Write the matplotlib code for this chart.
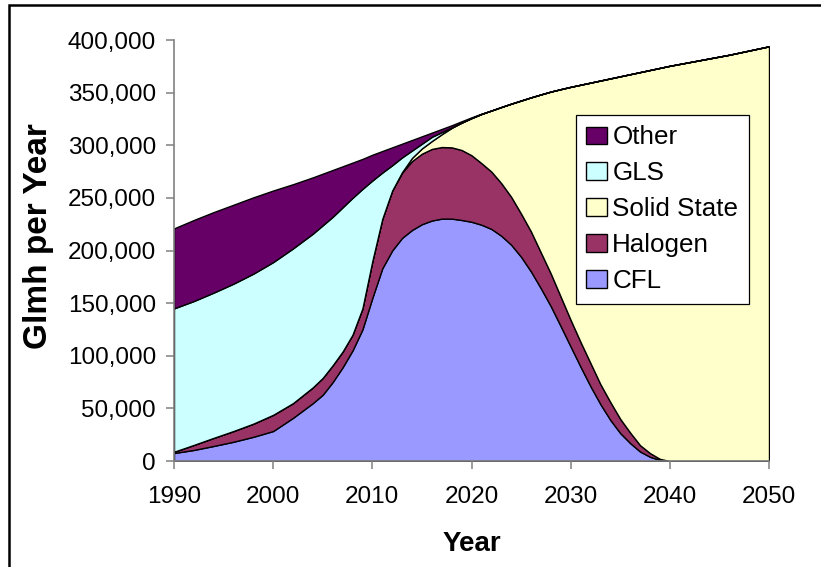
import matplotlib
matplotlib.use("Agg")
import matplotlib.pyplot as plt
from matplotlib.patches import Rectangle
from matplotlib.ticker import FuncFormatter

plt.rcParams['font.family'] = ['Liberation Sans', 'DejaVu Sans']

# Lighting service demand by technology (Glmh per year)
years = [1990, 1992, 1994, 1996, 1998, 2000, 2002, 2004,
         2005, 2006, 2007, 2008, 2009, 2010, 2011, 2012, 2013, 2014,
         2015, 2016, 2017, 2018, 2019, 2020, 2021, 2022, 2023, 2024,
         2025, 2026, 2027, 2028, 2029, 2030, 2031, 2032, 2033, 2034,
         2035, 2036, 2037, 2038, 2039, 2040, 2042, 2044, 2046, 2048, 2050]

cfl = [7600, 10500, 14300, 18300, 23000, 28500, 41000, 55000,
       63000, 75000, 89000, 105000, 125000, 155000, 183000, 200000, 212000, 219500,
       225000, 228500, 230300, 230300, 229000, 227300, 224500, 220500, 214000, 205500,
       194000, 180000, 164000, 147000, 128000, 108700, 89500, 71000, 54000, 39000,
       26500, 17000, 9000, 4000, 1000, 0, 0, 0, 0, 0, 0]

halogen = [1200, 4800, 7700, 10200, 12500, 15400, 14000, 15000,
           16000, 16000, 15000, 15000, 20000, 35000, 47000, 57000, 62000, 65500,
           67000, 68000, 68000, 67700, 66500, 63200, 58500, 54500, 50000, 45500,
           41000, 38000, 34000, 31000, 28000, 25300, 23500, 22000, 19000, 17000,
           13500, 10000, 6000, 3500, 1000, 0, 0, 0, 0, 0, 0]

solid_state = [0, 0, 0, 0, 0, 0, 0, 0,
               0, 0, 0, 0, 0, 0, 0, 0, 500, 3000,
               5000, 7500, 12200, 18500, 26000, 35300, 46700, 58000, 72300, 88500,
               107500, 127500, 150300, 173000, 197300, 221500, 244500, 266500, 288500, 307500,
               325500, 340500, 354500, 364000, 371500, 375500, 379000, 382500, 386000, 390000, 394000]

gls = [136200, 136700, 138000, 140000, 142500, 145100, 147000, 146000,
       145000, 141000, 137000, 130000, 113500, 76500, 44000, 24000, 14000, 7000,
       4500, 4000, 2000, 500, 0, 0, 0, 0, 0, 0,
       0, 0, 0, 0, 0, 0, 0, 0, 0, 0,
       0, 0, 0, 0, 0, 0, 0, 0, 0, 0, 0]

other = [76000, 77000, 76500, 75000, 72500, 68000, 61000, 53500,
         49000, 44500, 39000, 33500, 28500, 24500, 20500, 17000, 13000, 10000,
         7000, 4000, 3000, 2000, 1300, 700, 300, 0, 0, 0,
         0, 0, 0, 0, 0, 0, 0, 0, 0, 0,
         0, 0, 0, 0, 0, 0, 0, 0, 0, 0, 0]

series_names = ["CFL", "Halogen", "Solid State", "GLS", "Other"]
series_colors = ["#9999FF", "#993366", "#FFFFCC", "#CCFFFF", "#660066"]

x_ticks = [1990, 2000, 2010, 2020, 2030, 2040, 2050]
y_ticks = [0, 50000, 100000, 150000, 200000, 250000, 300000, 350000, 400000]

W, H = 821, 567
fig = plt.figure(figsize=(W / 100, H / 100), dpi=100)
fig.patch.set_facecolor("white")

ax = fig.add_axes([174 / W, 1 - 461 / H, (769 - 174) / W, (461 - 40) / H])

polys = ax.stackplot(years, cfl, halogen, solid_state, gls, other,
                     colors=series_colors, labels=series_names,
                     edgecolor="black", linewidth=1.0)

ax.set_xlim(1990, 2050)
ax.set_ylim(0, 400000)
ax.set_xticks(x_ticks)
ax.set_yticks(y_ticks)
ax.yaxis.set_major_formatter(FuncFormatter(lambda v, p: f"{int(v):,}"))

for side in ("top", "right"):
    ax.spines[side].set_visible(False)
for side in ("left", "bottom"):
    ax.spines[side].set_color("#808080")
    ax.spines[side].set_linewidth(1.2)
    ax.spines[side].set_zorder(5)

ax.tick_params(axis="both", direction="out", length=6, width=1.1,
               color="#808080", labelsize=17.5, labelcolor="black")
ax.tick_params(axis="x", pad=12)
ax.tick_params(axis="y", pad=7)

fig.text(471.5 / W, 1 - 544 / H, "Year", ha="center", va="center",
         fontsize=20, fontweight="bold")
fig.text(39 / W, 1 - 236 / H, "Glmh per Year", ha="center", va="center",
         rotation=90, fontsize=24, fontweight="bold")

handles, labels = ax.get_legend_handles_labels()
leg = fig.legend(handles[::-1], labels[::-1],
                 loc="upper left", bbox_to_anchor=(576 / W, 1 - 115 / H),
                 bbox_transform=fig.transFigure,
                 fontsize=18.7, frameon=True, fancybox=False,
                 edgecolor="black", facecolor="white", framealpha=1,
                 handlelength=0.8, handleheight=0.66, handletextpad=0.2,
                 labelspacing=0.46, borderpad=0.4, borderaxespad=0)
leg.get_frame().set_linewidth(0.9)

# outer chart frame
fig.patches.append(Rectangle((9 / W, -0.05), 1.0, (H - 5) / H + 0.05,
                             transform=fig.transFigure, fill=False,
                             edgecolor="black", linewidth=1.8, clip_on=False))

fig.savefig("out.png", dpi=100, facecolor="white")
